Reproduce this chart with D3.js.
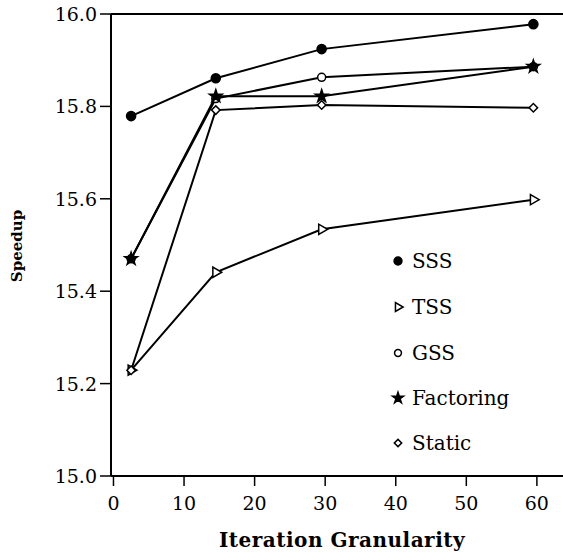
<!DOCTYPE html>
<html>
<head>
<meta charset="utf-8">
<script src="https://cdn.jsdelivr.net/npm/d3@7"></script>
<style>
  body { margin: 0; background: #fff; }
  svg text { font-family: "DejaVu Serif", "Liberation Serif", serif; fill: #000; }
</style>
</head>
<body>
<div id="chart"></div>
<script>
// granularity values on the x axis
const granularity = [2.5, 14.5, 29.5, 59.5];

// speedup per scheduling scheme
const sss       = [15.779, 15.861, 15.924, 15.978];
const tss       = [15.229, 15.441, 15.534, 15.598];
const gss       = [15.470, 15.817, 15.863, 15.886];
const factoring = [15.470, 15.822, 15.822, 15.886];
const staticS   = [15.229, 15.792, 15.803, 15.797];

const seriesNames = ['SSS', 'TSS', 'GSS', 'Factoring', 'Static'];
const seriesValues = [sss, tss, gss, factoring, staticS];

const xTicks = [0, 10, 20, 30, 40, 50, 60];
const yTicks = [15.0, 15.2, 15.4, 15.6, 15.8, 16.0];

const width = 563, height = 556;

const svg = d3.select('#chart').append('svg')
    .attr('width', width)
    .attr('height', height);

const x = d3.scaleLinear().domain([-0.35, 63.7]).range([111, 563]);
const y = d3.scaleLinear().domain([15, 16]).range([476, 14]);

// marker shapes for each scheme
const markers = {
  SSS:       {type: d3.symbolCircle, size: 65, fill: '#000', rotate: 0},
  TSS:       {type: d3.symbolTriangle, size: 45, fill: '#fff', rotate: 90},
  GSS:       {type: d3.symbolCircle, size: 50, fill: '#fff', rotate: 0},
  Factoring: {type: d3.symbolStar, size: 50, fill: '#000', rotate: 0},
  Static:    {type: d3.symbolSquare, size: 36, fill: '#fff', rotate: 45}
};

// axes frame: left, bottom and top lines
svg.append('line')
    .attr('x1', x(-0.35)).attr('x2', x(-0.35))
    .attr('y1', y(16)).attr('y2', y(15))
    .attr('stroke', '#000').attr('stroke-width', 2);
svg.append('line')
    .attr('x1', x(-0.35)).attr('x2', width)
    .attr('y1', y(15)).attr('y2', y(15))
    .attr('stroke', '#000').attr('stroke-width', 2);
svg.append('line')
    .attr('x1', x(-0.35)).attr('x2', width)
    .attr('y1', y(16)).attr('y2', y(16))
    .attr('stroke', '#000').attr('stroke-width', 2);

// y ticks
svg.selectAll('.ytick')
  .data(yTicks)
  .enter().append('line')
    .attr('class', 'ytick')
    .attr('x1', x(-0.35) - 11).attr('x2', x(-0.35))
    .attr('y1', d => y(d)).attr('y2', d => y(d))
    .attr('stroke', '#000').attr('stroke-width', 1.5);

svg.selectAll('.ylabel')
  .data(yTicks)
  .enter().append('text')
    .attr('class', 'ylabel')
    .attr('x', 97)
    .attr('y', d => y(d) + 7)
    .attr('text-anchor', 'end')
    .style('font-size', '19px')
    .text(d => d.toFixed(1));

// x ticks
svg.selectAll('.xtick')
  .data(xTicks)
  .enter().append('line')
    .attr('class', 'xtick')
    .attr('x1', d => x(d)).attr('x2', d => x(d))
    .attr('y1', y(15)).attr('y2', y(15) + 10)
    .attr('stroke', '#000').attr('stroke-width', 1.5);

svg.selectAll('.xlabel')
  .data(xTicks)
  .enter().append('text')
    .attr('class', 'xlabel')
    .attr('x', d => x(d))
    .attr('y', 510)
    .attr('text-anchor', 'middle')
    .style('font-size', '19px')
    .text(d => d);

// axis titles
svg.append('text')
    .attr('x', 342)
    .attr('y', 547)
    .attr('text-anchor', 'middle')
    .style('font-size', '20px')
    .style('font-weight', 'bold')
    .style('letter-spacing', '0.5px')
    .text('Iteration Granularity');

svg.append('text')
    .attr('transform', 'translate(22,246) rotate(-90)')
    .attr('text-anchor', 'middle')
    .style('font-size', '15px')
    .style('font-weight', 'bold')
    .text('Speedup');

// series lines
const line = d3.line()
    .x((d, i) => x(granularity[i]))
    .y(d => y(d));

seriesValues.forEach((vals, k) => {
  svg.append('path')
      .datum(vals)
      .attr('d', line)
      .attr('fill', 'none')
      .attr('stroke', '#000')
      .attr('stroke-width', 2);
});

// series markers
seriesValues.forEach((vals, k) => {
  const m = markers[seriesNames[k]];
  svg.selectAll('.m' + k)
    .data(vals)
    .enter().append('path')
      .attr('class', 'm' + k)
      .attr('d', d3.symbol().type(m.type).size(m.size))
      .attr('transform', (d, i) => `translate(${x(granularity[i])},${y(d)}) rotate(${m.rotate})`)
      .attr('fill', m.fill)
      .attr('stroke', '#000')
      .attr('stroke-width', 1.5);
});

// legend
const legendY = [261, 307, 353, 398, 443];
const legend = svg.append('g').attr('class', 'legend');

seriesNames.forEach((name, k) => {
  const m = markers[name];
  legend.append('path')
      .attr('d', d3.symbol().type(m.type).size(m.size * 0.75))
      .attr('transform', `translate(398,${legendY[k]}) rotate(${m.rotate})`)
      .attr('fill', m.fill)
      .attr('stroke', '#000')
      .attr('stroke-width', 1.5);
  legend.append('text')
      .attr('x', 412)
      .attr('y', legendY[k] + 7)
      .style('font-size', '20px')
      .text(name);
});
</script>
</body>
</html>
